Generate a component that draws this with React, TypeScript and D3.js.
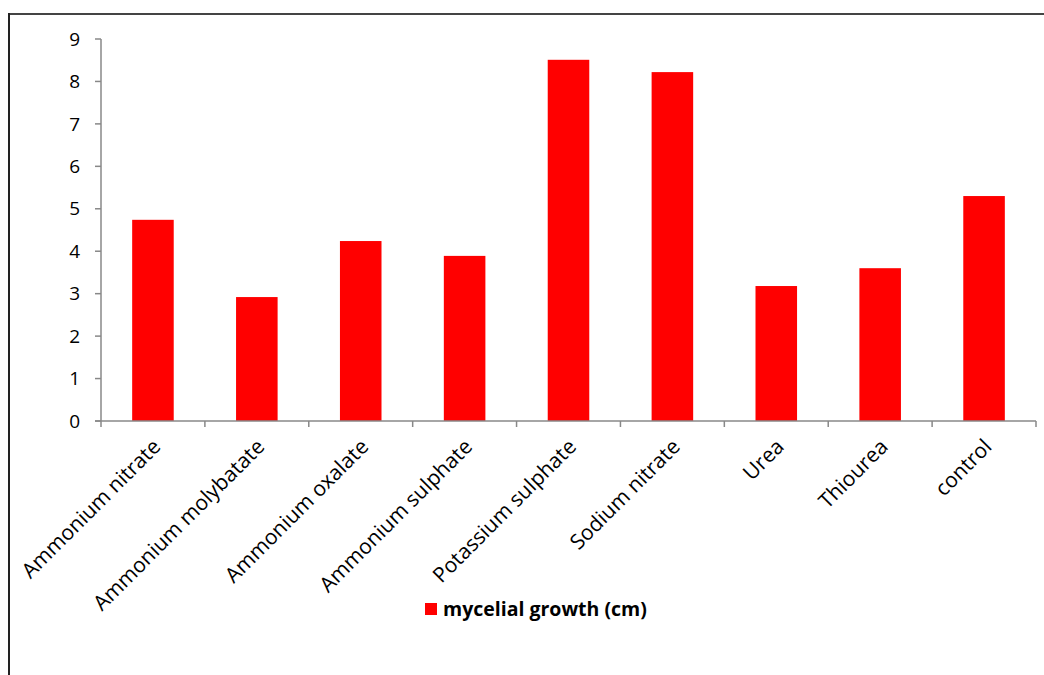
import React from "react";
import * as d3 from "d3";

const categories = [
  "Ammonium nitrate",
  "Ammonium molybatate",
  "Ammonium oxalate",
  "Ammonium sulphate",
  "Potassium sulphate",
  "Sodium nitrate",
  "Urea",
  "Thiourea",
  "control",
];
const values = [4.74, 2.92, 4.24, 3.89, 8.51, 8.22, 3.18, 3.6, 5.3];
const yTicks = [0, 1, 2, 3, 4, 5, 6, 7, 8, 9];
const seriesName = "mycelial growth (cm)";

export default function App() {
  const W = 1044, H = 675;
  const left = 101, right = 1036, top = 39, bottom = 421;
  const x = d3.scaleBand<string>().domain(categories).range([left, right]).paddingInner(0.6).paddingOuter(0.3);
  const xb = d3.scaleBand<string>().domain(categories).range([left, right]);
  const y = d3.scaleLinear().domain([0, 9]).range([bottom, top]);
  const font = "'Open Sans', 'Liberation Sans', sans-serif";
  return (
    <svg width={W} height={H} style={{ position: "absolute", left: 0, top: 0 }}>
      <rect x={0} y={0} width={W} height={H} fill="#fff" />
      <line x1={9} y1={14} x2={W} y2={14} stroke="#444" strokeWidth={2} />
      <line x1={9} y1={13} x2={9} y2={H} stroke="#222" strokeWidth={2} />
      {categories.map((c, i) => (
        <rect key={c} x={x(c)} y={y(values[i])} width={x.bandwidth()} height={bottom - y(values[i])} fill="#ff0000" />
      ))}
      <line x1={left} y1={top} x2={left} y2={bottom} stroke="#888" strokeWidth={1.5} />
      {yTicks.map((t) => (
        <g key={t}>
          <line x1={95} x2={left} y1={y(t)} y2={y(t)} stroke="#888" strokeWidth={1.5} />
          <text x={80} y={y(t)} dy="0.35em" textAnchor="end" fontSize={19} fontFamily={font} fill="#000">{t}</text>
        </g>
      ))}
      <line x1={95} x2={right} y1={bottom} y2={bottom} stroke="#888" strokeWidth={1.5} />
      {categories.map((c) => (
        <line key={c + "t"} x1={xb(c)} x2={xb(c)} y1={bottom} y2={bottom + 6} stroke="#888" strokeWidth={1.5} />
      ))}
      <line x1={right} x2={right} y1={bottom} y2={bottom + 6} stroke="#888" strokeWidth={1.5} />
      {categories.map((c) => {
        const cx = (xb(c) as number) + xb.bandwidth() / 2 + 9;
        const cy = bottom + 27;
        return (
          <text key={c + "l"} x={cx} y={cy} textAnchor="end" fontSize={21} fontFamily={font} fill="#000" transform={`rotate(-45 ${cx} ${cy})`}>{c}</text>
        );
      })}
      <rect x={425} y={603} width={12} height={12} fill="#ff0000" />
      <text x={443} y={616} fontSize={19.5} fontWeight="bold" fontFamily={font} fill="#000">{seriesName}</text>
    </svg>
  );
}
